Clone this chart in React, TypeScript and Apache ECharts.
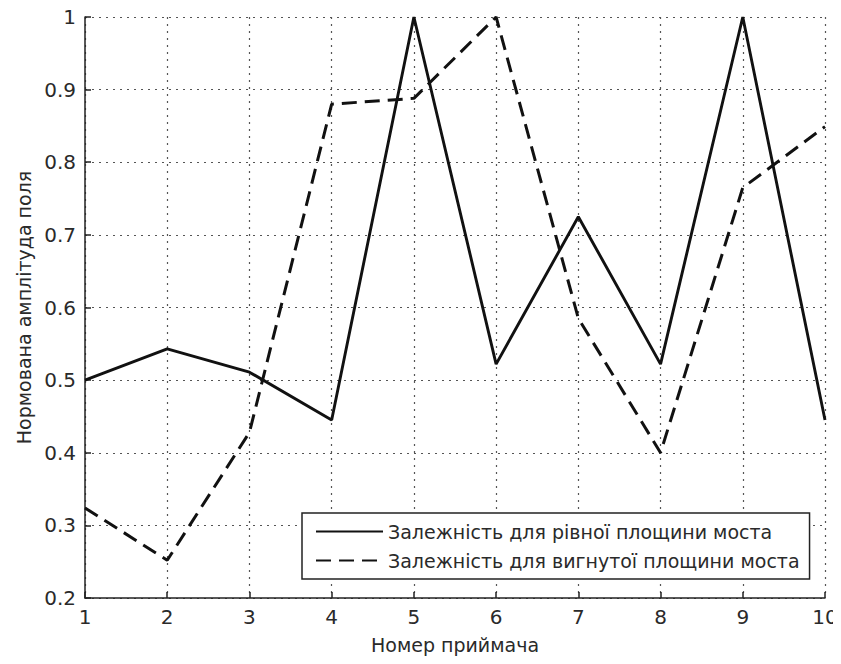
import React, { useEffect, useRef } from "react";
import * as echarts from "echarts";

const receivers = [1, 2, 3, 4, 5, 6, 7, 8, 9, 10];
const flatValues = [0.5, 0.543, 0.511, 0.445, 1.0, 0.522, 0.725, 0.522, 1.0, 0.445];
const curvedValues = [0.324, 0.252, 0.428, 0.88, 0.888, 1.0, 0.585, 0.4, 0.765, 0.849];
const seriesNames = [
  "Залежність для рівної площини моста",
  "Залежність для вигнутої площини моста",
];
const xTitle = "Номер приймача";
const yTitle = "Нормована амплітуда поля";

const FONT = "DejaVu Sans, Liberation Sans, sans-serif";
const TXT = "#2a2a2a";

export default function App() {
  const ref = useRef<HTMLDivElement>(null);
  useEffect(() => {
    if (!ref.current) return;
    const chart = echarts.init(ref.current, undefined, { renderer: "svg" });
    const toPairs = (vals: number[]) => receivers.map((x, i) => [x, vals[i]]);
    chart.setOption({
      animation: false,
      backgroundColor: "#ffffff",
      textStyle: { fontFamily: FONT },
      grid: { left: 85, right: 16, top: 17, bottom: 66 },
      legend: {
        orient: "vertical",
        left: 302,
        top: 513,
        itemWidth: 67,
        itemHeight: 14,
        itemGap: 10,
        padding: [9, 10, 9, 13],
        borderColor: "#222",
        borderWidth: 1.5,
        backgroundColor: "#fff",
        itemStyle: { opacity: 0 },
        textStyle: { fontFamily: FONT, fontSize: 19, color: TXT },
        data: seriesNames,
      },
      xAxis: {
        type: "value",
        min: 1,
        max: 10,
        interval: 1,
        name: xTitle,
        nameLocation: "middle",
        nameGap: 37,
        nameTextStyle: { fontFamily: FONT, fontSize: 19, color: TXT },
        axisLine: { show: true, lineStyle: { color: "#222", width: 1.5 } },
        axisTick: { show: true, inside: true, length: 6, lineStyle: { color: "#222", width: 1.5 } },
        axisLabel: { fontFamily: FONT, fontSize: 20, color: TXT, margin: 9 },
        splitLine: { show: true, lineStyle: { type: [2, 5], color: "#555", width: 1.2 } },
      },
      yAxis: {
        type: "value",
        min: 0.2,
        max: 1,
        interval: 0.1,
        name: yTitle,
        nameLocation: "middle",
        nameGap: 52,
        nameTextStyle: { fontFamily: FONT, fontSize: 19, color: TXT },
        axisLine: { show: true, lineStyle: { color: "#222", width: 1.5 } },
        axisTick: { show: true, inside: true, length: 6, lineStyle: { color: "#222", width: 1.5 } },
        axisLabel: { fontFamily: FONT, fontSize: 20, color: TXT, margin: 9 },
        splitLine: { show: true, lineStyle: { type: [2, 5], color: "#555", width: 1.2 } },
      },
      series: [
        {
          name: seriesNames[0],
          type: "line",
          data: toPairs(flatValues),
          symbol: "none",
          lineStyle: { color: "#111", width: 2.9, type: "solid" },
          itemStyle: { color: "#111" },
        },
        {
          name: seriesNames[1],
          type: "line",
          data: toPairs(curvedValues),
          symbol: "none",
          lineStyle: { color: "#111", width: 3, type: [15, 8] },
          itemStyle: { color: "#111" },
        },
      ],
    });
    return () => chart.dispose();
  }, []);
  return <div ref={ref} style={{ width: 841, height: 664, margin: -8 }} />;
}
